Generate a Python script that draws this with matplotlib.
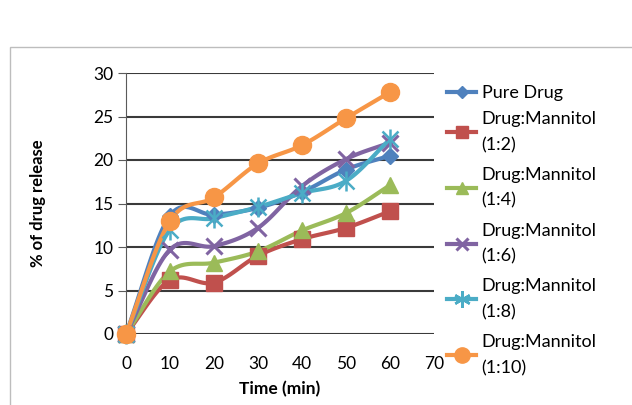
import numpy as np
import matplotlib
matplotlib.use("Agg")
from matplotlib import pyplot as plt
from matplotlib.patches import Rectangle

plt.rcParams['font.family'] = ['Lato', 'DejaVu Sans']

time = [0, 10, 20, 30, 40, 50, 60]
pure_drug = [0, 13.6, 13.7, 14.5, 16.3, 18.9, 20.5]
dm_1_2 = [0, 6.2, 5.9, 9.0, 10.9, 12.2, 14.1]
dm_1_4 = [0, 7.2, 8.2, 9.5, 11.9, 13.9, 17.1]
dm_1_6 = [0, 9.7, 10.1, 12.2, 17.0, 20.1, 22.0]
dm_1_8 = [0, 12.0, 13.3, 14.6, 16.2, 17.6, 22.4]
dm_1_10 = [0, 13.0, 15.7, 19.6, 21.7, 24.8, 27.8]

labels = ['Pure Drug', 'Drug:Mannitol\n(1:2)', 'Drug:Mannitol\n(1:4)',
          'Drug:Mannitol\n(1:6)', 'Drug:Mannitol\n(1:8)', 'Drug:Mannitol\n(1:10)']
series = [pure_drug, dm_1_2, dm_1_4, dm_1_6, dm_1_8, dm_1_10]
colors = ['#4F81BD', '#C0504D', '#9BBB59', '#8064A2', '#4BACC6', '#F79646']
markers = ['D', 's', '^', 'x', 'star', 'o']
msizes = [8, 11, 11, 11, 12, 13]


def smooth(x, y, n=20):
    # catmull-rom curve through the points, like excel's smoothed lines
    x = np.asarray(x, float)
    y = np.asarray(y, float)
    px = np.concatenate([[2 * x[0] - x[1]], x, [2 * x[-1] - x[-2]]])
    py = np.concatenate([[2 * y[0] - y[1]], y, [2 * y[-1] - y[-2]]])
    t = np.linspace(0, 1, n)
    xs, ys = [], []
    for i in range(1, len(px) - 2):
        for p, out in ((px, xs), (py, ys)):
            p0, p1, p2, p3 = p[i - 1], p[i], p[i + 1], p[i + 2]
            out.extend(0.5 * ((2 * p1) + (-p0 + p2) * t
                              + (2 * p0 - 5 * p1 + 4 * p2 - p3) * t ** 2
                              + (-p0 + 3 * p1 - 3 * p2 + p3) * t ** 3))
    return xs, ys


fig = plt.figure(figsize=(6.32, 4.05), dpi=100)
fig.patches.append(Rectangle((10 / 632, -0.1), 1.2, 1 - 47 / 405 + 0.1,
                             transform=fig.transFigure, fill=False,
                             edgecolor='#bdbdbd', linewidth=1))
ax = fig.add_axes([126 / 632, 1 - 334 / 405, 308 / 632, 261 / 405])

handles = []
for y, lab, c, m, ms in zip(series, labels, colors, markers, msizes):
    sx, sy = smooth(time, y)
    ax.plot(sx, sy, color=c, lw=3, zorder=3, solid_capstyle='round', clip_on=False)
    if m == 'star':
        # excel style asterisk: an x with a vertical bar
        ax.plot(time, y, ls='none', marker='x', ms=ms, color=c, mew=1.8, zorder=4, clip_on=False)
        ax.plot(time, y, ls='none', marker='|', ms=ms + 2, color=c, mew=1.8, zorder=4, clip_on=False)
        h, = ax.plot([], [], color=c, lw=3, marker=(6, 2, 0), ms=ms, mec=c, mew=1.8)
    else:
        mew = 2.2 if m == 'x' else 1
        ax.plot(time, y, ls='none', marker=m, ms=ms, color=c, mec=c, mew=mew,
                zorder=4, clip_on=False)
        h, = ax.plot([], [], color=c, lw=3, marker=m, ms=ms - 2, mec=c, mew=mew)
    h.set_label(lab)
    handles.append(h)

ax.set_xlim(0, 70)
ax.set_ylim(0, 30)
ax.set_xticks(range(0, 71, 10))
ax.set_yticks(range(0, 31, 5))
ax.grid(axis='y', color='#3a3a3a', lw=1.5)
ax.set_axisbelow(True)
for s in ['top', 'right', 'bottom']:
    ax.spines[s].set_visible(False)
ax.spines['left'].set_color('#5a5a5a')
ax.tick_params(axis='x', length=0, labelsize=12.5, pad=16)
ax.tick_params(axis='y', length=6, color='#5a5a5a', labelsize=12.5, pad=3)
ax.set_xlabel('Time (min)', fontsize=12.5, fontweight='bold', labelpad=6)
ax.set_ylabel('% of drug release', fontsize=12, fontweight='bold', labelpad=34)

# legend in two parts so the single-line entry sits closer to the rest
leg_kw = dict(loc='upper left', frameon=False, fontsize=13, handlelength=1.6,
              handletextpad=0.3, borderaxespad=0)
leg1 = fig.legend(handles=handles[:1], bbox_to_anchor=(440 / 632, 1 - 78 / 405), **leg_kw)
leg2 = fig.legend(handles=handles[1:], bbox_to_anchor=(440 / 632, 1 - 104 / 405),
                  labelspacing=0.76, **leg_kw)
for t in leg2.get_texts():
    t.set_linespacing(1.75)

fig.savefig('out.png', dpi=100)
